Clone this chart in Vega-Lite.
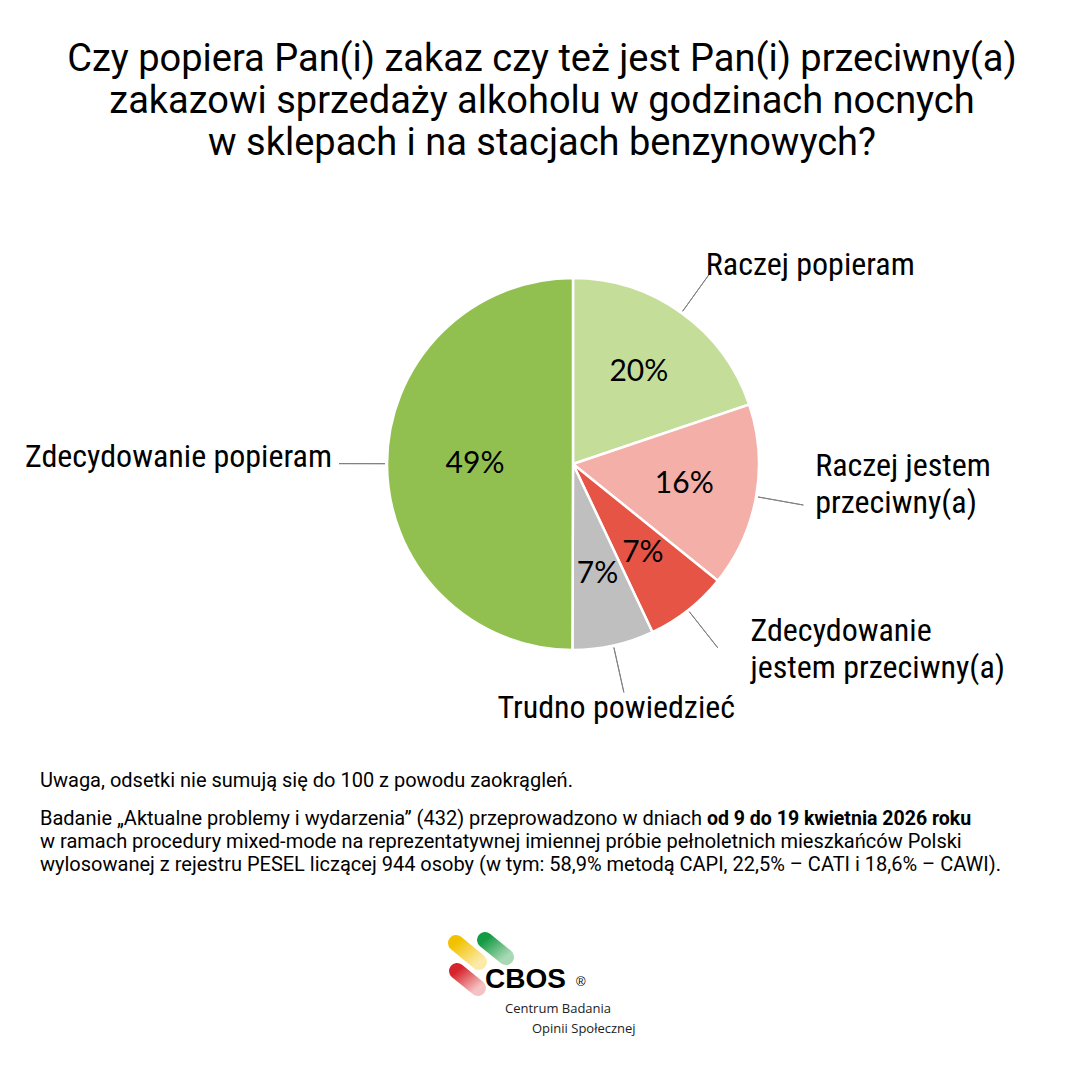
{
  "$schema": "https://vega.github.io/schema/vega-lite/v6.json",
  "width": 1080,
  "height": 1078,
  "autosize": {"type": "none"},
  "padding": 0,
  "background": "white",
  "config": {"view": {"stroke": null}},
  "layer": [
    {
      "data": {"values": [{}]},
      "mark": {"type": "text", "x": 542, "y": 71, "align": "center", "baseline": "alphabetic", "font": "Roboto", "fontSize": 38, "lineHeight": 42, "lineBreak": "\n", "color": "#000000",
        "text": "Czy popiera Pan(i) zakaz czy też jest Pan(i) przeciwny(a)\nzakazowi sprzedaży alkoholu w godzinach nocnych\nw sklepach i na stacjach benzynowych?"}
    },
    {
      "data": {"values": [
        {"cat": "Raczej popieram", "value": 19.6, "pct": "20%", "order": 1, "label": "Raczej popieram"},
        {"cat": "Raczej jestem przeciwny(a)", "value": 15.8, "pct": "16%", "order": 2, "label": "Raczej jestem\nprzeciwny(a)"},
        {"cat": "Zdecydowanie jestem przeciwny(a)", "value": 7.1, "pct": "7%", "order": 3, "label": "Zdecydowanie\njestem przeciwny(a)"},
        {"cat": "Trudno powiedzieć", "value": 7.0, "pct": "7%", "order": 4, "label": "Trudno powiedzieć"},
        {"cat": "Zdecydowanie popieram", "value": 49.4, "pct": "49%", "order": 5, "label": "Zdecydowanie popieram"}
      ]},
      "encoding": {
        "theta": {"field": "value", "type": "quantitative", "stack": true},
        "order": {"field": "order", "type": "quantitative"},
        "detail": {"field": "cat", "type": "nominal"}
      },
      "layer": [
        {
          "mark": {"type": "arc", "x": 573, "y": 464, "radius": 186, "stroke": "white", "strokeWidth": 2.5},
          "encoding": {
            "color": {"field": "cat", "type": "nominal", "legend": null,
              "scale": {"domain": ["Raczej popieram", "Raczej jestem przeciwny(a)", "Zdecydowanie jestem przeciwny(a)", "Trudno powiedzieć", "Zdecydowanie popieram"],
                        "range": ["#C4DE9A", "#F3AFA8", "#E65445", "#BFBFBF", "#92C050"]}}
          }
        },
        {
          "mark": {"type": "arc", "x": 573, "y": 464, "radius": 234, "radius2": 188, "padAngle": 3.1, "filled": false, "stroke": "#808080", "strokeWidth": 1}
        },
        {
          "mark": {"type": "text", "x": 573, "y": 464, "radius": 113, "font": "Lato", "fontSize": 30, "align": "center", "baseline": "middle", "color": "#000000"},
          "encoding": {"text": {"condition": {"test": "datum.cat !== 'Zdecydowanie popieram'", "field": "pct"}, "value": ""}}
        },
        {
          "mark": {"type": "text", "x": 573, "y": 464, "radius": 98, "font": "Lato", "fontSize": 30, "align": "center", "baseline": "middle", "color": "#000000"},
          "encoding": {"text": {"condition": {"test": "datum.cat === 'Zdecydowanie popieram'", "field": "pct"}, "value": ""}}
        },
        {
          "mark": {"type": "text", "x": 573, "y": 464, "radius": 245, "dx": -10, "dy": 10, "font": "Roboto Condensed, Liberation Sans Narrow, Roboto", "fontSize": 32, "align": "left", "baseline": "alphabetic", "lineBreak": "\n", "lineHeight": 37, "color": "#000000"},
          "encoding": {"text": {"condition": {"test": "datum.cat === 'Raczej popieram'", "field": "label"}, "value": ""}}
        },
        {
          "mark": {"type": "text", "x": 573, "y": 464, "radius": 245, "dx": 1, "dy": -31, "font": "Roboto Condensed, Liberation Sans Narrow, Roboto", "fontSize": 32, "align": "left", "baseline": "alphabetic", "lineBreak": "\n", "lineHeight": 37, "color": "#000000"},
          "encoding": {"text": {"condition": {"test": "datum.cat === 'Raczej jestem przeciwny(a)'", "field": "label"}, "value": ""}}
        },
        {
          "mark": {"type": "text", "x": 573, "y": 464, "radius": 245, "dx": 26, "dy": -15, "font": "Roboto Condensed, Liberation Sans Narrow, Roboto", "fontSize": 32, "align": "left", "baseline": "alphabetic", "lineBreak": "\n", "lineHeight": 37, "color": "#000000"},
          "encoding": {"text": {"condition": {"test": "datum.cat === 'Zdecydowanie jestem przeciwny(a)'", "field": "label"}, "value": ""}}
        },
        {
          "mark": {"type": "text", "x": 573, "y": 464, "radius": 245, "dx": -10, "dy": 15, "font": "Roboto Condensed, Liberation Sans Narrow, Roboto", "fontSize": 32, "align": "center", "baseline": "alphabetic", "lineBreak": "\n", "lineHeight": 37, "color": "#000000"},
          "encoding": {"text": {"condition": {"test": "datum.cat === 'Trudno powiedzieć'", "field": "label"}, "value": ""}}
        },
        {
          "mark": {"type": "text", "x": 573, "y": 464, "radius": 245, "dx": 4, "dy": 3, "font": "Roboto Condensed, Liberation Sans Narrow, Roboto", "fontSize": 32, "align": "right", "baseline": "alphabetic", "lineBreak": "\n", "lineHeight": 37, "color": "#000000"},
          "encoding": {"text": {"condition": {"test": "datum.cat === 'Zdecydowanie popieram'", "field": "label"}, "value": ""}}
        }
      ]
    },
    {
      "data": {"values": [{}]},
      "mark": {"type": "text", "x": 40, "y": 787, "align": "left", "baseline": "alphabetic", "font": "Roboto", "fontSize": 20, "color": "#000000",
        "text": "Uwaga, odsetki nie sumują się do 100 z powodu zaokrągleń."}
    },
    {
      "data": {"values": [{}]},
      "mark": {"type": "text", "x": 40, "y": 825, "align": "left", "baseline": "alphabetic", "font": "Roboto", "fontSize": 20, "color": "#000000",
        "text": "Badanie „Aktualne problemy i wydarzenia” (432) przeprowadzono w dniach"}
    },
    {
      "data": {"values": [{}]},
      "mark": {"type": "text", "x": 707, "y": 825, "align": "left", "baseline": "alphabetic", "font": "Roboto", "fontSize": 19.5, "fontWeight": "bold", "color": "#000000",
        "text": "od 9 do 19 kwietnia 2026 roku"}
    },
    {
      "data": {"values": [{}]},
      "mark": {"type": "text", "x": 40, "y": 848, "align": "left", "baseline": "alphabetic", "font": "Roboto", "fontSize": 20, "lineHeight": 23, "lineBreak": "\n", "color": "#000000",
        "text": "w ramach procedury mixed-mode na reprezentatywnej imiennej próbie pełnoletnich mieszkańców Polski\nwylosowanej z rejestru PESEL liczącej 944 osoby (w tym: 58,9% metodą CAPI, 22,5% – CATI i 18,6% – CAWI)."}
    },
    {
      "data": {"values": [{}]},
      "mark": {"type": "rule", "strokeWidth": 16, "strokeCap": "round",
        "stroke": {"gradient": "linear", "x1": 0, "y1": 0, "x2": 1, "y2": 1, "stops": [{"offset": 0, "color": "#F2C200"}, {"offset": 1, "color": "#FBEAA8"}]}},
      "encoding": {"x": {"value": 456}, "y": {"value": 943}, "x2": {"value": 479}, "y2": {"value": 962}}
    },
    {
      "data": {"values": [{}]},
      "mark": {"type": "rule", "strokeWidth": 16, "strokeCap": "round",
        "stroke": {"gradient": "linear", "x1": 0, "y1": 0, "x2": 1, "y2": 1, "stops": [{"offset": 0, "color": "#169B45"}, {"offset": 1, "color": "#A8D9B4"}]}},
      "encoding": {"x": {"value": 485}, "y": {"value": 940}, "x2": {"value": 506}, "y2": {"value": 957}}
    },
    {
      "data": {"values": [{}]},
      "mark": {"type": "rule", "strokeWidth": 16, "strokeCap": "round",
        "stroke": {"gradient": "linear", "x1": 0, "y1": 0, "x2": 1, "y2": 1, "stops": [{"offset": 0, "color": "#D5242B"}, {"offset": 1, "color": "#F5C2C3"}]}},
      "encoding": {"x": {"value": 457}, "y": {"value": 971}, "x2": {"value": 478}, "y2": {"value": 988}}
    },
    {
      "data": {"values": [{}]},
      "mark": {"type": "text", "x": 485, "y": 988, "align": "left", "baseline": "alphabetic", "font": "Liberation Sans", "fontSize": 28, "fontWeight": "bold", "color": "#000000", "text": "CBOS"}
    },
    {
      "data": {"values": [{}]},
      "mark": {"type": "text", "x": 576, "y": 986, "align": "left", "baseline": "alphabetic", "font": "Liberation Sans", "fontSize": 13, "color": "#000000", "text": "®"}
    },
    {
      "data": {"values": [{}]},
      "mark": {"type": "text", "x": 505, "y": 1013, "align": "left", "baseline": "alphabetic", "font": "Open Sans", "fontSize": 13, "color": "#222222", "text": "Centrum Badania"}
    },
    {
      "data": {"values": [{}]},
      "mark": {"type": "text", "x": 532, "y": 1033, "align": "left", "baseline": "alphabetic", "font": "Open Sans", "fontSize": 13, "color": "#222222", "text": "Opinii Społecznej"}
    }
  ]
}
